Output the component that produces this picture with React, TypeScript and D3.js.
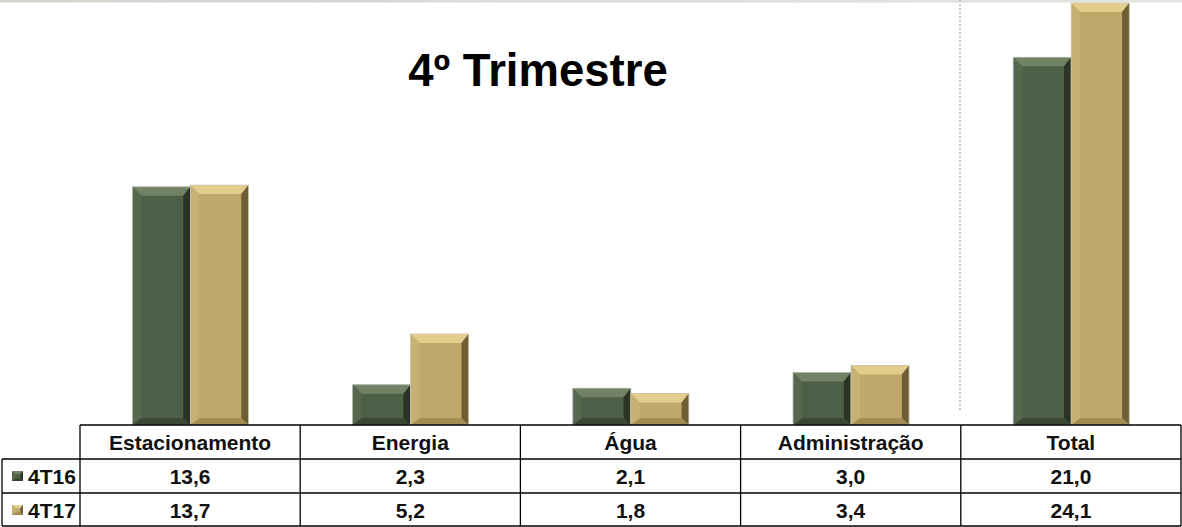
import React from "react";
import * as d3 from "d3";

const categories = ["Estacionamento", "Energia", "Água", "Administração", "Total"];
const seriesNames = ["4T16", "4T17"];
const values4T16 = [13.6, 2.3, 2.1, 3.0, 21.0];
const values4T17 = [13.7, 5.2, 1.8, 3.4, 24.1];
const valueLabels4T16 = ["13,6", "2,3", "2,1", "3,0", "21,0"];
const valueLabels4T17 = ["13,7", "5,2", "1,8", "3,4", "24,1"];
const title = "4º Trimestre";

const W = 1182;
const H = 527;

const palettes = [
  { face: "#4e5f47", top: "#718364", left: "#55674d", right: "#2a3326", bottom: "#3a4735", edge: "#b9bdb6" },
  { face: "#c0a86b", top: "#e2cd8c", left: "#c7b073", right: "#6e5e34", bottom: "#a38c52", edge: "#cfc6ad" },
];

function BevelBar({ x0, x1, y0, y1, pal, bev = 9 }: any) {
  const w = x1 - x0;
  const h = y1 - y0;
  const b = Math.min(bev, w / 3, h / 3);
  const br = b * 0.8;
  const bb = b * 0.75;
  const p = (pts: number[][]) => pts.map((q) => q.join(",")).join(" ");
  return (
    <g>
      <rect x={x0} y={y0} width={w} height={h} fill={pal.face} />
      <polygon points={p([[x0, y0], [x1, y0], [x1 - br, y0 + b], [x0 + b, y0 + b]])} fill={pal.top} />
      <polygon points={p([[x0, y0], [x0 + b, y0 + b], [x0 + b, y1 - bb], [x0, y1]])} fill={pal.left} />
      <polygon points={p([[x1, y0], [x1, y1], [x1 - br, y1 - bb], [x1 - br, y0 + b]])} fill={pal.right} />
      <polygon points={p([[x0, y1], [x0 + b, y1 - bb], [x1 - br, y1 - bb], [x1, y1]])} fill={pal.bottom} />
      <rect x={x0} y={y0} width={w} height={h} fill="none" stroke={pal.edge} strokeWidth={0.8} />
    </g>
  );
}

export default function App() {
  const tableLeft = 2;
  const colStart = 80;
  const right = 1181;
  const rowTops = [425, 459, 493, 526];
  const baseline = 425;

  const x = d3.scaleBand<string>().domain(categories).range([colStart, right]).padding(0);
  const bw = x.bandwidth();
  const xs = d3.scaleBand<string>().domain(seriesNames).range([bw * 0.238, bw * 0.765]).padding(0);
  const y = d3.scaleLinear().domain([0, 24.1]).range([baseline, 3]);

  const seriesVals = [values4T16, values4T17];
  const seriesLabels = [valueLabels4T16, valueLabels4T17];
  const font = "'Liberation Sans', Arial, sans-serif";

  return (
    <svg width={W} height={H} style={{ position: "absolute", left: 0, top: 0, background: "#fff" }}>
      <defs>
        <linearGradient id="topline" x1="0" x2="1" y1="0" y2="0">
          <stop offset="0" stopColor="#cfd6cc" />
          <stop offset="1" stopColor="#e2e6df" />
        </linearGradient>
      </defs>
      <rect x={0} y={0} width={W} height={2.5} fill="url(#topline)" />
      <line x1={960} x2={960} y1={0} y2={410} stroke="#b5b5b5" strokeWidth={1.5} strokeDasharray="2,2" />

      <text x={538} y={86} textAnchor="middle" fontFamily={font} fontWeight="bold" fontSize={45.5} fill="#000">
        {title}
      </text>

      {categories.map((c, i) => (
        <g key={c}>
          {seriesNames.map((s, si) => {
            const x0 = (x(c) as number) + (xs(s) as number);
            return (
              <BevelBar
                key={s}
                x0={x0}
                x1={x0 + xs.bandwidth()}
                y0={y(seriesVals[si][i])}
                y1={baseline}
                pal={palettes[si]}
              />
            );
          })}
        </g>
      ))}

      {/* table */}
      <g stroke="#000" strokeWidth={1.3} fill="none">
        <line x1={colStart} x2={right} y1={rowTops[0]} y2={rowTops[0]} />
        <line x1={tableLeft} x2={right} y1={rowTops[1]} y2={rowTops[1]} />
        <line x1={tableLeft} x2={right} y1={rowTops[2]} y2={rowTops[2]} />
        <line x1={tableLeft} x2={right} y1={rowTops[3]} y2={rowTops[3]} />
        <line x1={tableLeft} x2={tableLeft} y1={rowTops[1]} y2={rowTops[3]} />
        {categories.map((c) => (
          <line key={c} x1={x(c) as number} x2={x(c) as number} y1={rowTops[0]} y2={rowTops[3]} />
        ))}
        <line x1={right} x2={right} y1={rowTops[0]} y2={rowTops[3]} />
      </g>

      {categories.map((c) => (
        <text
          key={c}
          x={(x(c) as number) + bw / 2}
          y={rowTops[0] + 25}
          textAnchor="middle"
          fontFamily={font}
          fontWeight="bold"
          fontSize={21}
          fill="#111"
        >
          {c}
        </text>
      ))}

      {seriesNames.map((s, si) => {
        const top = rowTops[si + 1];
        const pal = palettes[si];
        return (
          <g key={s}>
            <BevelBar x0={12} x1={23} y0={top + 12} y1={top + 22} pal={{ ...pal, edge: "none" }} bev={4} />
            <text x={28} y={top + 25} fontFamily={font} fontWeight="bold" fontSize={21} fill="#111">
              {s}
            </text>
            {categories.map((c, i) => (
              <text
                key={c}
                x={(x(c) as number) + bw / 2}
                y={top + 25}
                textAnchor="middle"
                fontFamily={font}
                fontWeight="bold"
                fontSize={21}
                fill="#111"
              >
                {seriesLabels[si][i]}
              </text>
            ))}
          </g>
        );
      })}
    </svg>
  );
}
